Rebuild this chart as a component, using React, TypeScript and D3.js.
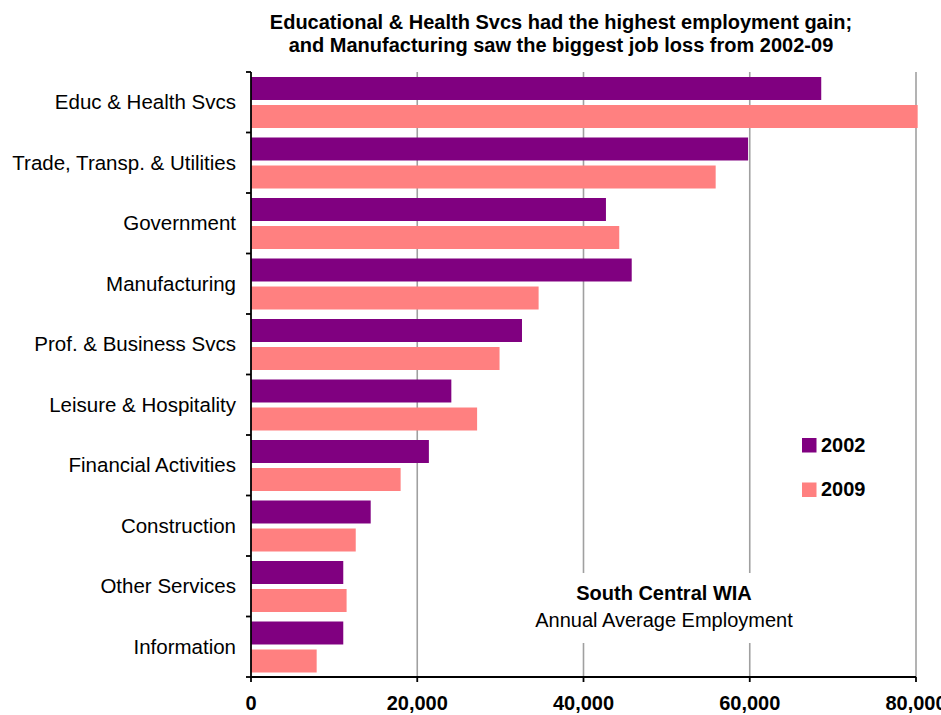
import React from "react";
import * as d3 from "d3";

const categories = [
  "Educ & Health Svcs",
  "Trade, Transp. & Utilities",
  "Government",
  "Manufacturing",
  "Prof. & Business Svcs",
  "Leisure & Hospitality",
  "Financial Activities",
  "Construction",
  "Other Services",
  "Information",
];
const series = ["2002", "2009"];
const values2002 = [68600, 59800, 42700, 45800, 32600, 24100, 21400, 14400, 11100, 11100];
const values2009 = [80200, 55900, 44300, 34600, 29900, 27200, 18000, 12600, 11500, 7900];
const xTicks = [0, 20000, 40000, 60000, 80000];
const colors = ["#800080", "#FF8080"];
const titleLines = [
  "Educational & Health Svcs had the highest employment gain;",
  "and Manufacturing saw the biggest job loss from 2002-09",
];

const W = 941;
const H = 715;
const left = 251;
const right = 916;
const top = 72;
const bottom = 677;
const font = "'Liberation Sans', Arial, Helvetica, sans-serif";

export default function App() {
  const x = d3.scaleLinear().domain([0, 80000]).range([left, right]);
  const y0 = d3.scaleBand<string>().domain(categories).range([top, bottom]);
  const y1 = d3
    .scaleBand<string>()
    .domain(series)
    .range([5, y0.bandwidth() - 4.5])
    .paddingInner(0.179);
  const fmt = d3.format(",");
  const data = [values2002, values2009];
  const boundaries = categories.map((c) => y0(c)!).concat([bottom]);

  return (
    <svg
      width={W}
      height={H}
      style={{ position: "absolute", left: 0, top: 0, background: "#fff" }}
      fontFamily={font}
    >
      <rect x={0} y={0} width={W} height={H} fill="#fff" />
      {/* gridlines */}
      {xTicks.slice(1).map((t) => (
        <line key={t} x1={x(t)} x2={x(t)} y1={top} y2={bottom} stroke="#a0a0a0" strokeWidth={1.6} />
      ))}
      {/* annotation box covering gridlines */}
      <rect x={522} y={573} width={284} height={70} fill="#fff" />
      <text x={664} y={600} textAnchor="middle" fontSize={20} fontWeight="bold" fill="#000">
        South Central WIA
      </text>
      <text x={664} y={627} textAnchor="middle" fontSize={20} fill="#000">
        Annual Average Employment
      </text>
      {/* bars */}
      {categories.map((c, i) =>
        series.map((s, j) => (
          <rect
            key={c + s}
            x={x(0)}
            y={y0(c)! + y1(s)!}
            width={x(data[j][i]) - x(0)}
            height={y1.bandwidth()}
            fill={colors[j]}
          />
        ))
      )}
      {/* y axis */}
      <line x1={left} x2={left} y1={top} y2={bottom} stroke="#000" strokeWidth={1.8} />
      {boundaries.map((b, i) => (
        <line key={i} x1={left - 5} x2={left} y1={b} y2={b} stroke="#000" strokeWidth={1.8} />
      ))}
      {categories.map((c) => (
        <text
          key={c}
          x={236}
          y={y0(c)! + y0.bandwidth() / 2 + 7}
          textAnchor="end"
          fontSize={20.5}
          fill="#000"
        >
          {c}
        </text>
      ))}
      {/* x axis */}
      <line x1={left} x2={right} y1={bottom} y2={bottom} stroke="#000" strokeWidth={1.8} />
      {xTicks.map((t) => (
        <g key={t}>
          <line x1={x(t)} x2={x(t)} y1={bottom} y2={bottom + 5} stroke="#000" strokeWidth={1.8} />
          <text x={x(t)} y={710} textAnchor="middle" fontSize={20} fontWeight="bold" fill="#000">
            {fmt(t)}
          </text>
        </g>
      ))}
      {/* legend */}
      {series.map((s, j) => (
        <g key={s}>
          <rect x={802} y={438 + j * 44.5} width={14.5} height={14.5} fill={colors[j]} />
          <text x={821} y={451.5 + j * 44.5} fontSize={20} fontWeight="bold" fill="#000">
            {s}
          </text>
        </g>
      ))}
      {/* title */}
      {titleLines.map((l, i) => (
        <text key={i} x={561} y={29 + i * 23} textAnchor="middle" fontSize={20} fontWeight="bold" fill="#000">
          {l}
        </text>
      ))}
    </svg>
  );
}
